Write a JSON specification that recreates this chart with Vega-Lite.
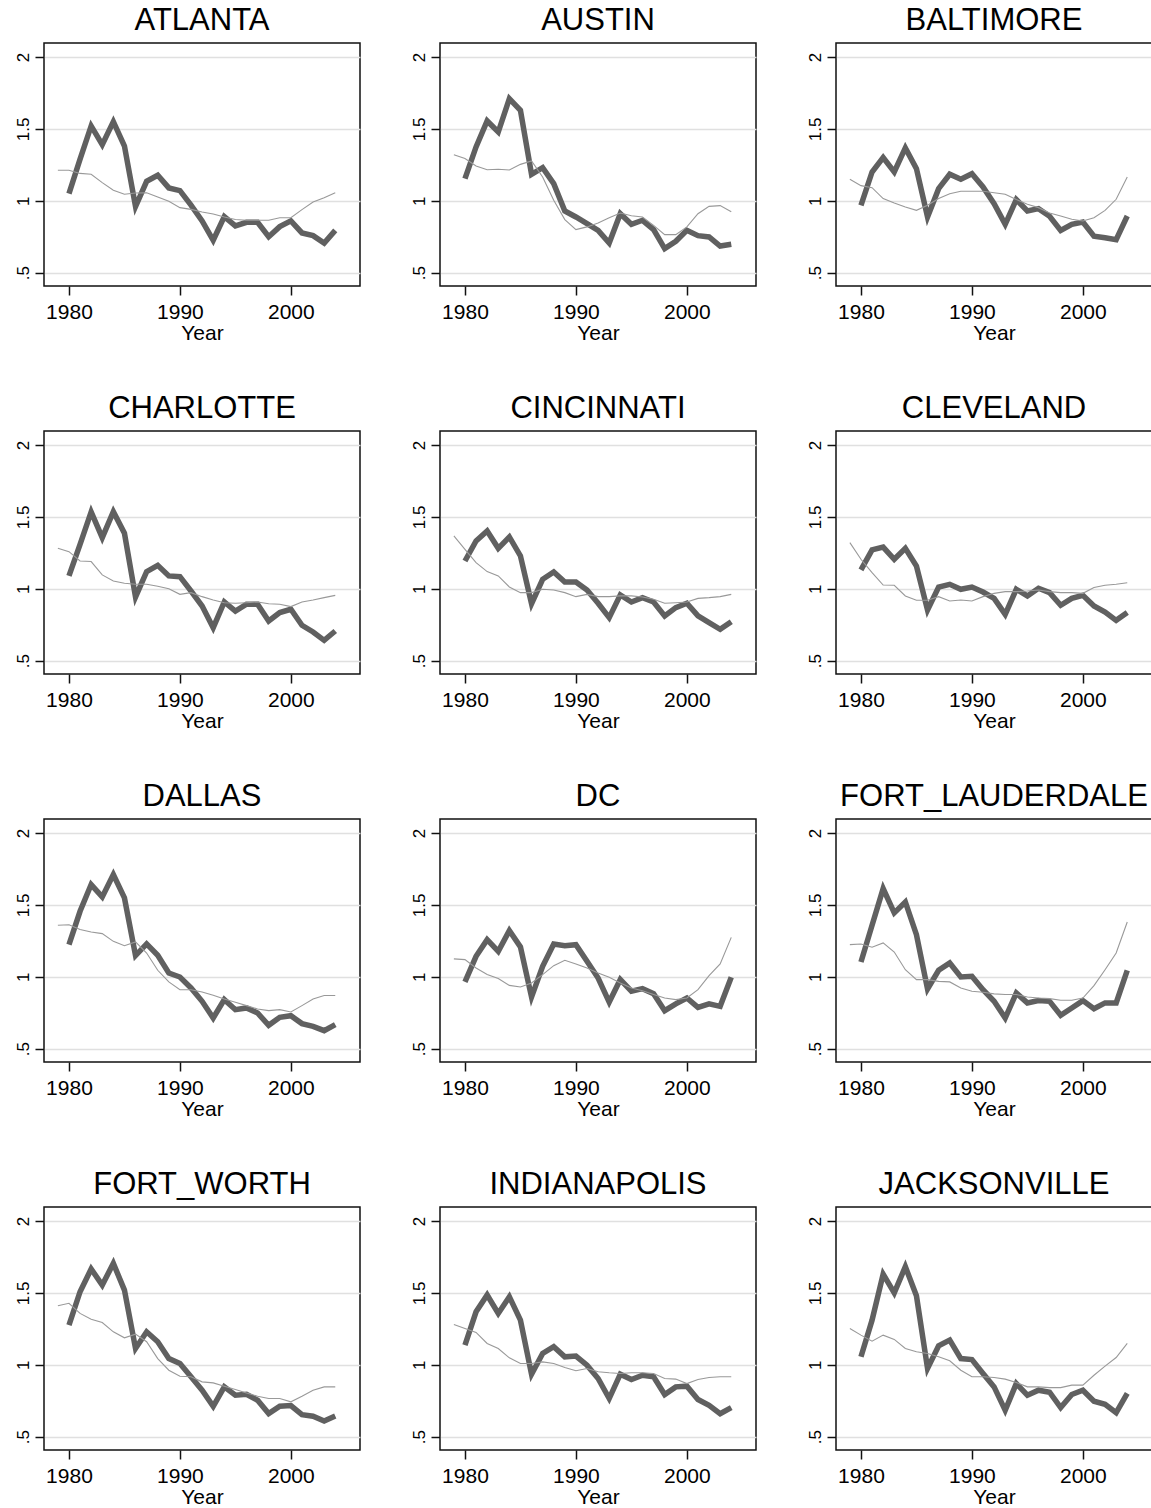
{
 "$schema": "https://vega.github.io/schema/vega-lite/v6.json",
 "background": "white",
 "padding": {"left": 13, "top": 4, "right": 0, "bottom": 0},
 "config": {
  "font": "Liberation Sans",
  "view": {"stroke": "#111", "strokeWidth": 1.5},
  "axis": {
   "domain": false,
   "tickColor": "#111", "tickWidth": 1.5, "tickSize": 9,
   "labelColor": "black", "labelFont": "Liberation Sans",
   "titleColor": "black", "titleFont": "Liberation Sans", "titleFontWeight": "normal", "titleFontSize": 21
  }
 },
 "data": {"values": [
  {"c":"ATLANTA","yr":1979,"t":1.212},{"c":"ATLANTA","yr":1980,"a":1.05,"t":1.212},{"c":"ATLANTA","yr":1981,"a":1.29,"t":1.19},{"c":"ATLANTA","yr":1982,"a":1.52,"t":1.184},{"c":"ATLANTA","yr":1983,"a":1.39,"t":1.126},{"c":"ATLANTA","yr":1984,"a":1.55,"t":1.073},{"c":"ATLANTA","yr":1985,"a":1.38,"t":1.045},{"c":"ATLANTA","yr":1986,"a":0.96,"t":1.054},{"c":"ATLANTA","yr":1987,"a":1.135,"t":1.056},{"c":"ATLANTA","yr":1988,"a":1.177,"t":1.026},{"c":"ATLANTA","yr":1989,"a":1.089,"t":0.996},{"c":"ATLANTA","yr":1990,"a":1.07,"t":0.952},{"c":"ATLANTA","yr":1991,"a":0.97,"t":0.94},{"c":"ATLANTA","yr":1992,"a":0.86,"t":0.922},{"c":"ATLANTA","yr":1993,"a":0.725,"t":0.908},{"c":"ATLANTA","yr":1994,"a":0.89,"t":0.887},{"c":"ATLANTA","yr":1995,"a":0.825,"t":0.869},{"c":"ATLANTA","yr":1996,"a":0.85,"t":0.864},{"c":"ATLANTA","yr":1997,"a":0.85,"t":0.864},{"c":"ATLANTA","yr":1998,"a":0.75,"t":0.864},{"c":"ATLANTA","yr":1999,"a":0.82,"t":0.882},{"c":"ATLANTA","yr":2000,"a":0.86,"t":0.882},{"c":"ATLANTA","yr":2001,"a":0.776,"t":0.938},{"c":"ATLANTA","yr":2002,"a":0.757,"t":0.991},{"c":"ATLANTA","yr":2003,"a":0.706,"t":1.02},{"c":"ATLANTA","yr":2004,"a":0.794,"t":1.056},
  {"c":"AUSTIN","yr":1979,"t":1.32},{"c":"AUSTIN","yr":1980,"a":1.154,"t":1.293},{"c":"AUSTIN","yr":1981,"a":1.374,"t":1.242},{"c":"AUSTIN","yr":1982,"a":1.555,"t":1.216},{"c":"AUSTIN","yr":1983,"a":1.478,"t":1.219},{"c":"AUSTIN","yr":1984,"a":1.71,"t":1.214},{"c":"AUSTIN","yr":1985,"a":1.629,"t":1.253},{"c":"AUSTIN","yr":1986,"a":1.184,"t":1.277},{"c":"AUSTIN","yr":1987,"a":1.23,"t":1.165},{"c":"AUSTIN","yr":1988,"a":1.119,"t":1.003},{"c":"AUSTIN","yr":1989,"a":0.929,"t":0.869},{"c":"AUSTIN","yr":1990,"a":0.887,"t":0.799},{"c":"AUSTIN","yr":1991,"a":0.841,"t":0.818},{"c":"AUSTIN","yr":1992,"a":0.794,"t":0.845},{"c":"AUSTIN","yr":1993,"a":0.706,"t":0.882},{"c":"AUSTIN","yr":1994,"a":0.91,"t":0.915},{"c":"AUSTIN","yr":1995,"a":0.836,"t":0.896},{"c":"AUSTIN","yr":1996,"a":0.864,"t":0.887},{"c":"AUSTIN","yr":1997,"a":0.799,"t":0.829},{"c":"AUSTIN","yr":1998,"a":0.667,"t":0.764},{"c":"AUSTIN","yr":1999,"a":0.718,"t":0.764},{"c":"AUSTIN","yr":2000,"a":0.794,"t":0.818},{"c":"AUSTIN","yr":2001,"a":0.757,"t":0.91},{"c":"AUSTIN","yr":2002,"a":0.748,"t":0.961},{"c":"AUSTIN","yr":2003,"a":0.685,"t":0.966},{"c":"AUSTIN","yr":2004,"a":0.697,"t":0.924},
  {"c":"BALTIMORE","yr":1979,"t":1.149},{"c":"BALTIMORE","yr":1980,"a":0.968,"t":1.105},{"c":"BALTIMORE","yr":1981,"a":1.2,"t":1.091},{"c":"BALTIMORE","yr":1982,"a":1.3,"t":1.015},{"c":"BALTIMORE","yr":1983,"a":1.2,"t":0.984},{"c":"BALTIMORE","yr":1984,"a":1.367,"t":0.957},{"c":"BALTIMORE","yr":1985,"a":1.223,"t":0.933},{"c":"BALTIMORE","yr":1986,"a":0.887,"t":0.968},{"c":"BALTIMORE","yr":1987,"a":1.084,"t":1.015},{"c":"BALTIMORE","yr":1988,"a":1.184,"t":1.049},{"c":"BALTIMORE","yr":1989,"a":1.149,"t":1.066},{"c":"BALTIMORE","yr":1990,"a":1.188,"t":1.066},{"c":"BALTIMORE","yr":1991,"a":1.096,"t":1.066},{"c":"BALTIMORE","yr":1992,"a":0.98,"t":1.056},{"c":"BALTIMORE","yr":1993,"a":0.836,"t":1.045},{"c":"BALTIMORE","yr":1994,"a":1.008,"t":1.008},{"c":"BALTIMORE","yr":1995,"a":0.929,"t":0.975},{"c":"BALTIMORE","yr":1996,"a":0.945,"t":0.952},{"c":"BALTIMORE","yr":1997,"a":0.892,"t":0.915},{"c":"BALTIMORE","yr":1998,"a":0.794,"t":0.894},{"c":"BALTIMORE","yr":1999,"a":0.836,"t":0.871},{"c":"BALTIMORE","yr":2000,"a":0.852,"t":0.859},{"c":"BALTIMORE","yr":2001,"a":0.753,"t":0.882},{"c":"BALTIMORE","yr":2002,"a":0.743,"t":0.933},{"c":"BALTIMORE","yr":2003,"a":0.729,"t":1.01},{"c":"BALTIMORE","yr":2004,"a":0.894,"t":1.165},
  {"c":"CHARLOTTE","yr":1979,"t":1.281},{"c":"CHARLOTTE","yr":1980,"a":1.089,"t":1.258},{"c":"CHARLOTTE","yr":1981,"a":1.309,"t":1.193},{"c":"CHARLOTTE","yr":1982,"a":1.534,"t":1.189},{"c":"CHARLOTTE","yr":1983,"a":1.355,"t":1.096},{"c":"CHARLOTTE","yr":1984,"a":1.536,"t":1.054},{"c":"CHARLOTTE","yr":1985,"a":1.386,"t":1.038},{"c":"CHARLOTTE","yr":1986,"a":0.943,"t":1.031},{"c":"CHARLOTTE","yr":1987,"a":1.119,"t":1.031},{"c":"CHARLOTTE","yr":1988,"a":1.163,"t":1.017},{"c":"CHARLOTTE","yr":1989,"a":1.089,"t":1.0},{"c":"CHARLOTTE","yr":1990,"a":1.084,"t":0.961},{"c":"CHARLOTTE","yr":1991,"a":0.984,"t":0.973},{"c":"CHARLOTTE","yr":1992,"a":0.88,"t":0.945},{"c":"CHARLOTTE","yr":1993,"a":0.729,"t":0.922},{"c":"CHARLOTTE","yr":1994,"a":0.908,"t":0.903},{"c":"CHARLOTTE","yr":1995,"a":0.845,"t":0.899},{"c":"CHARLOTTE","yr":1996,"a":0.892,"t":0.903},{"c":"CHARLOTTE","yr":1997,"a":0.892,"t":0.908},{"c":"CHARLOTTE","yr":1998,"a":0.776,"t":0.896},{"c":"CHARLOTTE","yr":1999,"a":0.834,"t":0.892},{"c":"CHARLOTTE","yr":2000,"a":0.857,"t":0.876},{"c":"CHARLOTTE","yr":2001,"a":0.746,"t":0.908},{"c":"CHARLOTTE","yr":2002,"a":0.699,"t":0.922},{"c":"CHARLOTTE","yr":2003,"a":0.641,"t":0.938},{"c":"CHARLOTTE","yr":2004,"a":0.706,"t":0.954},
  {"c":"CINCINNATI","yr":1979,"t":1.367},{"c":"CINCINNATI","yr":1980,"a":1.193,"t":1.274},{"c":"CINCINNATI","yr":1981,"a":1.332,"t":1.182},{"c":"CINCINNATI","yr":1982,"a":1.402,"t":1.119},{"c":"CINCINNATI","yr":1983,"a":1.281,"t":1.089},{"c":"CINCINNATI","yr":1984,"a":1.36,"t":1.012},{"c":"CINCINNATI","yr":1985,"a":1.228,"t":0.973},{"c":"CINCINNATI","yr":1986,"a":0.896,"t":0.973},{"c":"CINCINNATI","yr":1987,"a":1.066,"t":0.996},{"c":"CINCINNATI","yr":1988,"a":1.117,"t":0.991},{"c":"CINCINNATI","yr":1989,"a":1.047,"t":0.973},{"c":"CINCINNATI","yr":1990,"a":1.047,"t":0.945},{"c":"CINCINNATI","yr":1991,"a":0.991,"t":0.961},{"c":"CINCINNATI","yr":1992,"a":0.899,"t":0.945},{"c":"CINCINNATI","yr":1993,"a":0.799,"t":0.945},{"c":"CINCINNATI","yr":1994,"a":0.957,"t":0.95},{"c":"CINCINNATI","yr":1995,"a":0.908,"t":0.95},{"c":"CINCINNATI","yr":1996,"a":0.938,"t":0.943},{"c":"CINCINNATI","yr":1997,"a":0.908,"t":0.927},{"c":"CINCINNATI","yr":1998,"a":0.811,"t":0.899},{"c":"CINCINNATI","yr":1999,"a":0.869,"t":0.903},{"c":"CINCINNATI","yr":2000,"a":0.899,"t":0.908},{"c":"CINCINNATI","yr":2001,"a":0.811,"t":0.933},{"c":"CINCINNATI","yr":2002,"a":0.764,"t":0.938},{"c":"CINCINNATI","yr":2003,"a":0.718,"t":0.945},{"c":"CINCINNATI","yr":2004,"a":0.771,"t":0.961},
  {"c":"CLEVELAND","yr":1979,"t":1.321},{"c":"CLEVELAND","yr":1980,"a":1.131,"t":1.205},{"c":"CLEVELAND","yr":1981,"a":1.27,"t":1.112},{"c":"CLEVELAND","yr":1982,"a":1.29,"t":1.026},{"c":"CLEVELAND","yr":1983,"a":1.205,"t":1.024},{"c":"CLEVELAND","yr":1984,"a":1.281,"t":0.95},{"c":"CLEVELAND","yr":1985,"a":1.158,"t":0.92},{"c":"CLEVELAND","yr":1986,"a":0.852,"t":0.92},{"c":"CLEVELAND","yr":1987,"a":1.012,"t":0.945},{"c":"CLEVELAND","yr":1988,"a":1.031,"t":0.915},{"c":"CLEVELAND","yr":1989,"a":0.996,"t":0.922},{"c":"CLEVELAND","yr":1990,"a":1.012,"t":0.915},{"c":"CLEVELAND","yr":1991,"a":0.977,"t":0.945},{"c":"CLEVELAND","yr":1992,"a":0.933,"t":0.968},{"c":"CLEVELAND","yr":1993,"a":0.822,"t":0.98},{"c":"CLEVELAND","yr":1994,"a":0.996,"t":0.98},{"c":"CLEVELAND","yr":1995,"a":0.95,"t":0.984},{"c":"CLEVELAND","yr":1996,"a":1.003,"t":0.991},{"c":"CLEVELAND","yr":1997,"a":0.973,"t":0.98},{"c":"CLEVELAND","yr":1998,"a":0.885,"t":0.973},{"c":"CLEVELAND","yr":1999,"a":0.933,"t":0.973},{"c":"CLEVELAND","yr":2000,"a":0.954,"t":0.968},{"c":"CLEVELAND","yr":2001,"a":0.88,"t":1.008},{"c":"CLEVELAND","yr":2002,"a":0.838,"t":1.024},{"c":"CLEVELAND","yr":2003,"a":0.78,"t":1.031},{"c":"CLEVELAND","yr":2004,"a":0.834,"t":1.042},
  {"c":"DALLAS","yr":1979,"t":1.358},{"c":"DALLAS","yr":1980,"a":1.223,"t":1.362},{"c":"DALLAS","yr":1981,"a":1.455,"t":1.328},{"c":"DALLAS","yr":1982,"a":1.641,"t":1.311},{"c":"DALLAS","yr":1983,"a":1.555,"t":1.3},{"c":"DALLAS","yr":1984,"a":1.71,"t":1.246},{"c":"DALLAS","yr":1985,"a":1.548,"t":1.216},{"c":"DALLAS","yr":1986,"a":1.147,"t":1.242},{"c":"DALLAS","yr":1987,"a":1.228,"t":1.165},{"c":"DALLAS","yr":1988,"a":1.149,"t":1.045},{"c":"DALLAS","yr":1989,"a":1.026,"t":0.964},{"c":"DALLAS","yr":1990,"a":0.998,"t":0.91},{"c":"DALLAS","yr":1991,"a":0.922,"t":0.91},{"c":"DALLAS","yr":1992,"a":0.829,"t":0.894},{"c":"DALLAS","yr":1993,"a":0.713,"t":0.871},{"c":"DALLAS","yr":1994,"a":0.841,"t":0.845},{"c":"DALLAS","yr":1995,"a":0.771,"t":0.822},{"c":"DALLAS","yr":1996,"a":0.783,"t":0.799},{"c":"DALLAS","yr":1997,"a":0.748,"t":0.776},{"c":"DALLAS","yr":1998,"a":0.662,"t":0.764},{"c":"DALLAS","yr":1999,"a":0.718,"t":0.771},{"c":"DALLAS","yr":2000,"a":0.729,"t":0.755},{"c":"DALLAS","yr":2001,"a":0.674,"t":0.799},{"c":"DALLAS","yr":2002,"a":0.655,"t":0.845},{"c":"DALLAS","yr":2003,"a":0.625,"t":0.869},{"c":"DALLAS","yr":2004,"a":0.667,"t":0.869},
  {"c":"DC","yr":1979,"t":1.124},{"c":"DC","yr":1980,"a":0.964,"t":1.119},{"c":"DC","yr":1981,"a":1.142,"t":1.061},{"c":"DC","yr":1982,"a":1.258,"t":1.016},{"c":"DC","yr":1983,"a":1.177,"t":0.987},{"c":"DC","yr":1984,"a":1.321,"t":0.94},{"c":"DC","yr":1985,"a":1.207,"t":0.929},{"c":"DC","yr":1986,"a":0.859,"t":0.957},{"c":"DC","yr":1987,"a":1.073,"t":1.015},{"c":"DC","yr":1988,"a":1.228,"t":1.077},{"c":"DC","yr":1989,"a":1.216,"t":1.114},{"c":"DC","yr":1990,"a":1.223,"t":1.089},{"c":"DC","yr":1991,"a":1.107,"t":1.061},{"c":"DC","yr":1992,"a":0.991,"t":1.026},{"c":"DC","yr":1993,"a":0.824,"t":0.996},{"c":"DC","yr":1994,"a":0.98,"t":0.957},{"c":"DC","yr":1995,"a":0.899,"t":0.922},{"c":"DC","yr":1996,"a":0.917,"t":0.903},{"c":"DC","yr":1997,"a":0.882,"t":0.876},{"c":"DC","yr":1998,"a":0.764,"t":0.852},{"c":"DC","yr":1999,"a":0.811,"t":0.841},{"c":"DC","yr":2000,"a":0.852,"t":0.852},{"c":"DC","yr":2001,"a":0.787,"t":0.91},{"c":"DC","yr":2002,"a":0.811,"t":1.008},{"c":"DC","yr":2003,"a":0.794,"t":1.089},{"c":"DC","yr":2004,"a":0.996,"t":1.274},
  {"c":"FORT_LAUDERDALE","yr":1979,"t":1.223},{"c":"FORT_LAUDERDALE","yr":1980,"a":1.103,"t":1.228},{"c":"FORT_LAUDERDALE","yr":1981,"a":1.358,"t":1.205},{"c":"FORT_LAUDERDALE","yr":1982,"a":1.613,"t":1.235},{"c":"FORT_LAUDERDALE","yr":1983,"a":1.444,"t":1.172},{"c":"FORT_LAUDERDALE","yr":1984,"a":1.52,"t":1.049},{"c":"FORT_LAUDERDALE","yr":1985,"a":1.293,"t":0.98},{"c":"FORT_LAUDERDALE","yr":1986,"a":0.915,"t":0.98},{"c":"FORT_LAUDERDALE","yr":1987,"a":1.045,"t":0.968},{"c":"FORT_LAUDERDALE","yr":1988,"a":1.096,"t":0.964},{"c":"FORT_LAUDERDALE","yr":1989,"a":0.998,"t":0.922},{"c":"FORT_LAUDERDALE","yr":1990,"a":1.003,"t":0.899},{"c":"FORT_LAUDERDALE","yr":1991,"a":0.91,"t":0.892},{"c":"FORT_LAUDERDALE","yr":1992,"a":0.829,"t":0.881},{"c":"FORT_LAUDERDALE","yr":1993,"a":0.713,"t":0.876},{"c":"FORT_LAUDERDALE","yr":1994,"a":0.887,"t":0.876},{"c":"FORT_LAUDERDALE","yr":1995,"a":0.818,"t":0.859},{"c":"FORT_LAUDERDALE","yr":1996,"a":0.834,"t":0.852},{"c":"FORT_LAUDERDALE","yr":1997,"a":0.829,"t":0.848},{"c":"FORT_LAUDERDALE","yr":1998,"a":0.732,"t":0.836},{"c":"FORT_LAUDERDALE","yr":1999,"a":0.783,"t":0.836},{"c":"FORT_LAUDERDALE","yr":2000,"a":0.834,"t":0.852},{"c":"FORT_LAUDERDALE","yr":2001,"a":0.778,"t":0.938},{"c":"FORT_LAUDERDALE","yr":2002,"a":0.818,"t":1.049},{"c":"FORT_LAUDERDALE","yr":2003,"a":0.818,"t":1.165},{"c":"FORT_LAUDERDALE","yr":2004,"a":1.045,"t":1.381},
  {"c":"FORT_WORTH","yr":1979,"t":1.41},{"c":"FORT_WORTH","yr":1980,"a":1.276,"t":1.427},{"c":"FORT_WORTH","yr":1981,"a":1.508,"t":1.357},{"c":"FORT_WORTH","yr":1982,"a":1.666,"t":1.317},{"c":"FORT_WORTH","yr":1983,"a":1.554,"t":1.294},{"c":"FORT_WORTH","yr":1984,"a":1.705,"t":1.229},{"c":"FORT_WORTH","yr":1985,"a":1.519,"t":1.187},{"c":"FORT_WORTH","yr":1986,"a":1.113,"t":1.213},{"c":"FORT_WORTH","yr":1987,"a":1.229,"t":1.16},{"c":"FORT_WORTH","yr":1988,"a":1.16,"t":1.043},{"c":"FORT_WORTH","yr":1989,"a":1.043,"t":0.962},{"c":"FORT_WORTH","yr":1990,"a":1.008,"t":0.92},{"c":"FORT_WORTH","yr":1991,"a":0.916,"t":0.916},{"c":"FORT_WORTH","yr":1992,"a":0.823,"t":0.881},{"c":"FORT_WORTH","yr":1993,"a":0.711,"t":0.874},{"c":"FORT_WORTH","yr":1994,"a":0.846,"t":0.851},{"c":"FORT_WORTH","yr":1995,"a":0.788,"t":0.828},{"c":"FORT_WORTH","yr":1996,"a":0.795,"t":0.804},{"c":"FORT_WORTH","yr":1997,"a":0.753,"t":0.781},{"c":"FORT_WORTH","yr":1998,"a":0.66,"t":0.765},{"c":"FORT_WORTH","yr":1999,"a":0.711,"t":0.765},{"c":"FORT_WORTH","yr":2000,"a":0.716,"t":0.742},{"c":"FORT_WORTH","yr":2001,"a":0.653,"t":0.781},{"c":"FORT_WORTH","yr":2002,"a":0.642,"t":0.823},{"c":"FORT_WORTH","yr":2003,"a":0.609,"t":0.846},{"c":"FORT_WORTH","yr":2004,"a":0.644,"t":0.846},
  {"c":"INDIANAPOLIS","yr":1979,"t":1.28},{"c":"INDIANAPOLIS","yr":1980,"a":1.136,"t":1.252},{"c":"INDIANAPOLIS","yr":1981,"a":1.368,"t":1.225},{"c":"INDIANAPOLIS","yr":1982,"a":1.485,"t":1.148},{"c":"INDIANAPOLIS","yr":1983,"a":1.357,"t":1.113},{"c":"INDIANAPOLIS","yr":1984,"a":1.473,"t":1.048},{"c":"INDIANAPOLIS","yr":1985,"a":1.31,"t":1.009},{"c":"INDIANAPOLIS","yr":1986,"a":0.934,"t":1.009},{"c":"INDIANAPOLIS","yr":1987,"a":1.078,"t":1.02},{"c":"INDIANAPOLIS","yr":1988,"a":1.125,"t":1.009},{"c":"INDIANAPOLIS","yr":1989,"a":1.055,"t":0.981},{"c":"INDIANAPOLIS","yr":1990,"a":1.06,"t":0.958},{"c":"INDIANAPOLIS","yr":1991,"a":0.997,"t":0.974},{"c":"INDIANAPOLIS","yr":1992,"a":0.904,"t":0.951},{"c":"INDIANAPOLIS","yr":1993,"a":0.765,"t":0.944},{"c":"INDIANAPOLIS","yr":1994,"a":0.934,"t":0.939},{"c":"INDIANAPOLIS","yr":1995,"a":0.897,"t":0.944},{"c":"INDIANAPOLIS","yr":1996,"a":0.927,"t":0.944},{"c":"INDIANAPOLIS","yr":1997,"a":0.916,"t":0.939},{"c":"INDIANAPOLIS","yr":1998,"a":0.793,"t":0.904},{"c":"INDIANAPOLIS","yr":1999,"a":0.846,"t":0.9},{"c":"INDIANAPOLIS","yr":2000,"a":0.851,"t":0.869},{"c":"INDIANAPOLIS","yr":2001,"a":0.758,"t":0.897},{"c":"INDIANAPOLIS","yr":2002,"a":0.718,"t":0.911},{"c":"INDIANAPOLIS","yr":2003,"a":0.66,"t":0.916},{"c":"INDIANAPOLIS","yr":2004,"a":0.702,"t":0.916},
  {"c":"JACKSONVILLE","yr":1979,"t":1.252},{"c":"JACKSONVILLE","yr":1980,"a":1.055,"t":1.206},{"c":"JACKSONVILLE","yr":1981,"a":1.31,"t":1.164},{"c":"JACKSONVILLE","yr":1982,"a":1.63,"t":1.206},{"c":"JACKSONVILLE","yr":1983,"a":1.5,"t":1.176},{"c":"JACKSONVILLE","yr":1984,"a":1.682,"t":1.113},{"c":"JACKSONVILLE","yr":1985,"a":1.48,"t":1.09},{"c":"JACKSONVILLE","yr":1986,"a":0.974,"t":1.078},{"c":"JACKSONVILLE","yr":1987,"a":1.132,"t":1.055},{"c":"JACKSONVILLE","yr":1988,"a":1.171,"t":1.027},{"c":"JACKSONVILLE","yr":1989,"a":1.043,"t":0.962},{"c":"JACKSONVILLE","yr":1990,"a":1.036,"t":0.916},{"c":"JACKSONVILLE","yr":1991,"a":0.939,"t":0.916},{"c":"JACKSONVILLE","yr":1992,"a":0.846,"t":0.911},{"c":"JACKSONVILLE","yr":1993,"a":0.683,"t":0.9},{"c":"JACKSONVILLE","yr":1994,"a":0.869,"t":0.876},{"c":"JACKSONVILLE","yr":1995,"a":0.788,"t":0.846},{"c":"JACKSONVILLE","yr":1996,"a":0.823,"t":0.846},{"c":"JACKSONVILLE","yr":1997,"a":0.809,"t":0.841},{"c":"JACKSONVILLE","yr":1998,"a":0.702,"t":0.841},{"c":"JACKSONVILLE","yr":1999,"a":0.793,"t":0.858},{"c":"JACKSONVILLE","yr":2000,"a":0.823,"t":0.858},{"c":"JACKSONVILLE","yr":2001,"a":0.746,"t":0.927},{"c":"JACKSONVILLE","yr":2002,"a":0.725,"t":0.99},{"c":"JACKSONVILLE","yr":2003,"a":0.667,"t":1.05},{"c":"JACKSONVILLE","yr":2004,"a":0.8,"t":1.148}
 ]},
 "facet": {"field": "c", "type": "nominal", "title": null,
  "header": {"labelFont": "Liberation Sans", "labelFontSize": 31, "labelColor": "black", "labelPadding": 6}},
 "columns": 3,
 "bounds": "flush",
 "spacing": {"column": 80, "row": 145},
 "resolve": {"axis": {"x": "independent", "y": "independent"}},
 "spec": {
  "width": 316,
  "height": 243,
  "encoding": {
   "x": {"field": "yr", "type": "quantitative",
    "scale": {"domain": [1977.75, 2006.23], "nice": false, "zero": false},
    "axis": {"values": [1980, 1990, 2000], "format": "d", "title": "Year", "grid": false,
     "labelFontSize": 21, "labelPadding": 6, "titlePadding": 0}}
  },
  "layer": [
   {"mark": {"type": "line", "color": "#606060", "strokeWidth": 5.5, "strokeJoin": "miter", "strokeCap": "butt"},
    "encoding": {"y": {"field": "a", "type": "quantitative",
     "scale": {"domain": [0.407, 2.097], "nice": false, "zero": false},
     "axis": {"values": [0.5, 1, 1.5, 2], "title": null, "grid": true, "gridColor": "#e0e0e0", "gridWidth": 1.5,
      "labelExpr": "datum.value == 0.5 ? '.5' : datum.value == 1 ? '1' : datum.value == 1.5 ? '1.5' : '2'",
      "labelAngle": 270, "labelAlign": "center", "labelBaseline": "alphabetic", "labelFontSize": 17, "labelPadding": 7}}}},
   {"mark": {"type": "line", "color": "#999999", "strokeWidth": 1.1},
    "encoding": {"y": {"field": "t", "type": "quantitative"}}}
  ]
 }
}
